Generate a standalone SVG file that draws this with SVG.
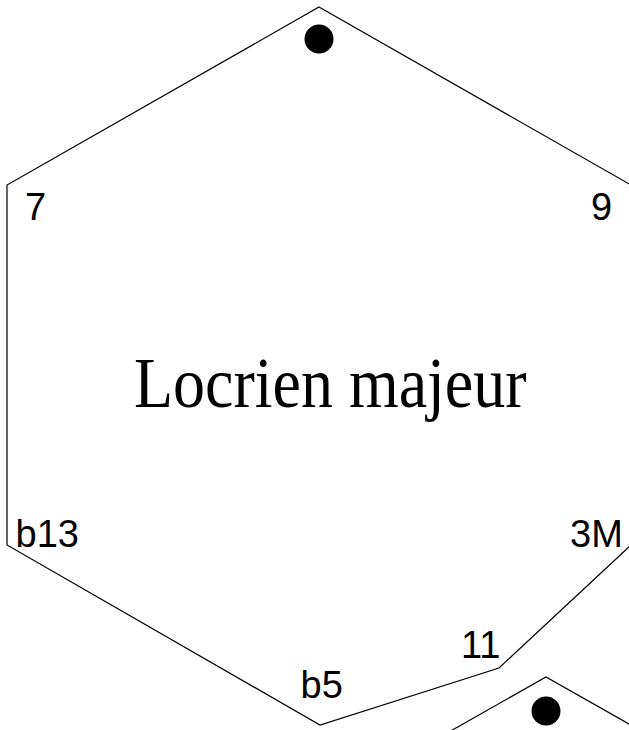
<svg xmlns="http://www.w3.org/2000/svg" width="629" height="730" viewBox="0 0 629 730">
<style>
.edge{fill:none;stroke:#000;stroke-width:1.2}
.lbl{font-family:"Liberation Sans",Arial,sans-serif;font-size:38px;fill:#000}
.title{font-family:"Liberation Serif","Times New Roman",serif;font-size:64px;fill:#000}
.dot{fill:#000}
</style>
<rect width="629" height="730" fill="#fff"/>
<g id="connectors">
<polygon class="edge" points="319,7 631,185 631,545 499,668 320,725 7,545 7,185"/>
<polyline class="edge" points="440,737 546,677 652,737"/>
</g>
<g id="node-main">
<circle class="dot" cx="319" cy="39" r="14.5"/>
<text class="title" transform="translate(134,406.5) scale(1,1.13)" x="0" y="0">Locrien majeur</text>
</g>
<g id="node-7"><text class="lbl" x="25" y="220">7</text></g>
<g id="node-9"><text class="lbl" x="591" y="220">9</text></g>
<g id="node-b13"><text class="lbl" x="15.5" y="547">b13</text></g>
<g id="node-3M"><text class="lbl" x="570" y="547">3M</text></g>
<g id="node-11"><text class="lbl" x="461" y="658">11</text></g>
<g id="node-b5"><text class="lbl" x="300.5" y="698">b5</text></g>
<g id="node-next">
<circle class="dot" cx="546" cy="711" r="14.5"/>
</g>
</svg>
